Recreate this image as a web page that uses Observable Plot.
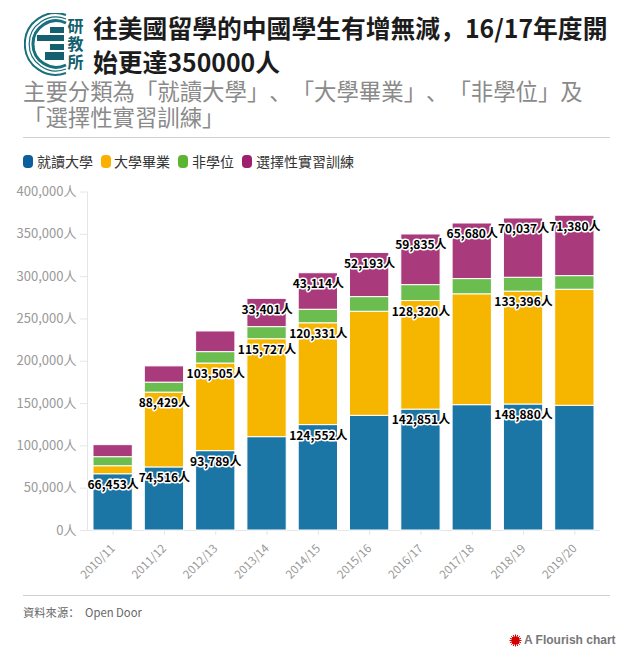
<!DOCTYPE html>
<html lang="zh-Hans"><head><meta charset="utf-8">
<script src="https://cdn.jsdelivr.net/npm/d3@7"></script>
<script src="https://cdn.jsdelivr.net/npm/@observablehq/plot@0.6"></script>
<style>
html,body{margin:0;padding:0;background:#fff}
body{width:622px;height:649px;position:relative;overflow:hidden;font-family:"Noto Sans CJK SC","Noto Sans",sans-serif;text-spacing-trim:space-all}
.abs{position:absolute;white-space:nowrap}
#title{left:93px;top:11px;font-size:24.8px;line-height:33.5px;font-weight:700;color:#1c1c1c;width:520px;white-space:normal}
#sub{left:23px;top:77px;font-size:22.4px;line-height:26px;color:#8a8a8a;width:575px;white-space:normal}
.hr{left:23px;width:587px;height:1px;background:#d0d0d0}
.sw{position:absolute;top:155px;width:10px;height:13px;border-radius:4px}
.lg{position:absolute;top:151px;font-size:14px;line-height:20px;color:#333}
#src{left:23px;top:604px;font-size:11.3px;line-height:16px;color:#666}
#src span{margin-left:3px}
#fl{left:524px;top:632px;font:bold 12px/16px "Liberation Sans",Arial,sans-serif;color:#777}
#chart{position:absolute;left:0;top:175px}
</style></head><body>
<svg class="abs" style="left:24px;top:13px" width="62" height="63" viewBox="0 0 62 63">
 <g fill="none" stroke="#17707a">
  <path d="M42 2 A30.8 30.8 0 1 0 42 60" stroke-width="2"/>
  <path d="M42 6 A26.9 26.9 0 1 0 42 56" stroke-width="1.2"/>
  <path d="M42 10 A23.2 23.2 0 1 0 42 52" stroke-width="3"/>
 </g>
 <g fill="#14606e">
  <rect x="26" y="14" width="14" height="6"/><rect x="13" y="22" width="27" height="6"/>
  <rect x="26" y="31" width="14" height="6"/><rect x="21" y="39" width="19" height="8"/>
 </g>
 <g fill="#14606e" font-size="16" font-weight="700" text-anchor="middle" font-family="Noto Sans CJK TC">
  <text x="51.5" y="19">研</text><text x="51.5" y="37">教</text><text x="51.5" y="55">所</text>
 </g>
</svg>
<div class="abs" id="title">往美國留學的中國學生有增無減，16/17年度開始更達350000人</div>
<div class="abs" id="sub">主要分類為「就讀大學」、「大學畢業」、「非學位」及「選擇性實習訓練」</div>
<div class="abs hr" style="top:137px"></div>
<div id="legend"></div>
<div id="chart"></div>
<div class="abs hr" style="top:595px"></div>
<div class="abs" id="src">資料來源： <span>Open Door</span></div>
<svg class="abs" style="left:509px;top:634px" width="13" height="13" viewBox="-6.5 -6.5 13 13"><circle r="4" fill="#d40000"/><g id="burst" stroke="#d40000" stroke-width="1"></g></svg>
<div class="abs" id="fl">A Flourish chart</div>
<script>
const years = ["2010/11","2011/12","2012/13","2013/14","2014/15","2015/16","2016/17","2017/18","2018/19","2019/20"];
const categories = ["就讀大學","大學畢業","非學位","選擇性實習訓練"];
const colors = ["#1b75a5","#f6b600","#6cbd4f","#a93a7c"];
const legendColors = ["#0b5f9a","#fbb000","#5cb531","#a01e6e"];
const undergrad = [66453,74516,93789,110300,124552,135500,142851,148100,148880,147400];
const graduate = [9500,88429,103505,115727,120331,123000,128320,131000,133396,137100];
const nonDegree = [10700,11800,13500,14300,16000,17300,18800,18000,16400,16100];
const opt = [14200,19200,24400,33401,43114,52193,59835,65680,70037,71380];
const labelled = [
 [true,true,true,false,true,false,true,false,true,false],
 [false,true,true,true,true,false,true,false,true,false],
 [false,false,false,false,false,false,false,false,false,false],
 [false,false,false,true,true,true,true,true,true,true]
];
const yTicks = [0,50000,100000,150000,200000,250000,300000,350000,400000];
const series = [undergrad,graduate,nonDegree,opt];
const rows = series.flatMap((vals,c)=>vals.map((v,i)=>({year:years[i],cat:categories[c],value:v,label:labelled[c][i]?d3.format(",")(v)+"人":null})));

const lg=document.getElementById("legend");
const pos=[[23,37],[101,114],[178,192],[242,256]];
categories.forEach((c,i)=>{
 const s=document.createElement("div");s.className="sw";s.style.left=pos[i][0]+"px";s.style.background=legendColors[i];lg.appendChild(s);
 const t=document.createElement("div");t.className="lg";t.style.left=pos[i][1]+"px";t.textContent=c;lg.appendChild(t);
});
const b=document.getElementById("burst");
for(let a=0;a<16;a++){const l=document.createElementNS("http://www.w3.org/2000/svg","line");const r=a*Math.PI/8;l.setAttribute("x1",3*Math.cos(r));l.setAttribute("y1",3*Math.sin(r));l.setAttribute("x2",6*Math.cos(r));l.setAttribute("y2",6*Math.sin(r));b.appendChild(l);}

const stackOpts={x:"year",y:"value",z:"cat",order:categories};
const plot=Plot.plot({
 width:622,height:415,marginLeft:87,marginRight:22,marginTop:16.5,marginBottom:60,
 style:{fontFamily:'"Noto Sans CJK SC","Noto Sans",sans-serif',background:"transparent"},
 x:{domain:years,paddingInner:0.234,paddingOuter:0.117,round:false,label:null},
 y:{domain:[0,400000],label:null},
 color:{domain:categories,range:colors},
 marks:[
  Plot.frame({anchor:"left",stroke:"#e4e6e9"}),
  Plot.ruleY([0],{stroke:"#e4e6e9"}),
  Plot.axisY({ticks:yTicks,tickSize:7,tickPadding:4,stroke:"#e4e6e9",color:"#999",fontSize:13,label:null,tickFormat:d=>d3.format(",")(d)+"人"}),
  Plot.axisX({tickSize:5,tickPadding:11,stroke:"#e4e6e9",color:"#999",fontSize:11.5,tickRotate:-45,label:null}),
  Plot.barY(rows,Plot.stackY({...stackOpts,fill:"cat",stroke:"white",strokeWidth:1})),
  Plot.text(rows,Plot.stackY2({...stackOpts,text:"label",dy:11,fill:"#000",stroke:"white",strokeWidth:3,fontSize:12,fontWeight:700}))
 ]
});
document.getElementById("chart").appendChild(plot);
</script>
</body></html>
